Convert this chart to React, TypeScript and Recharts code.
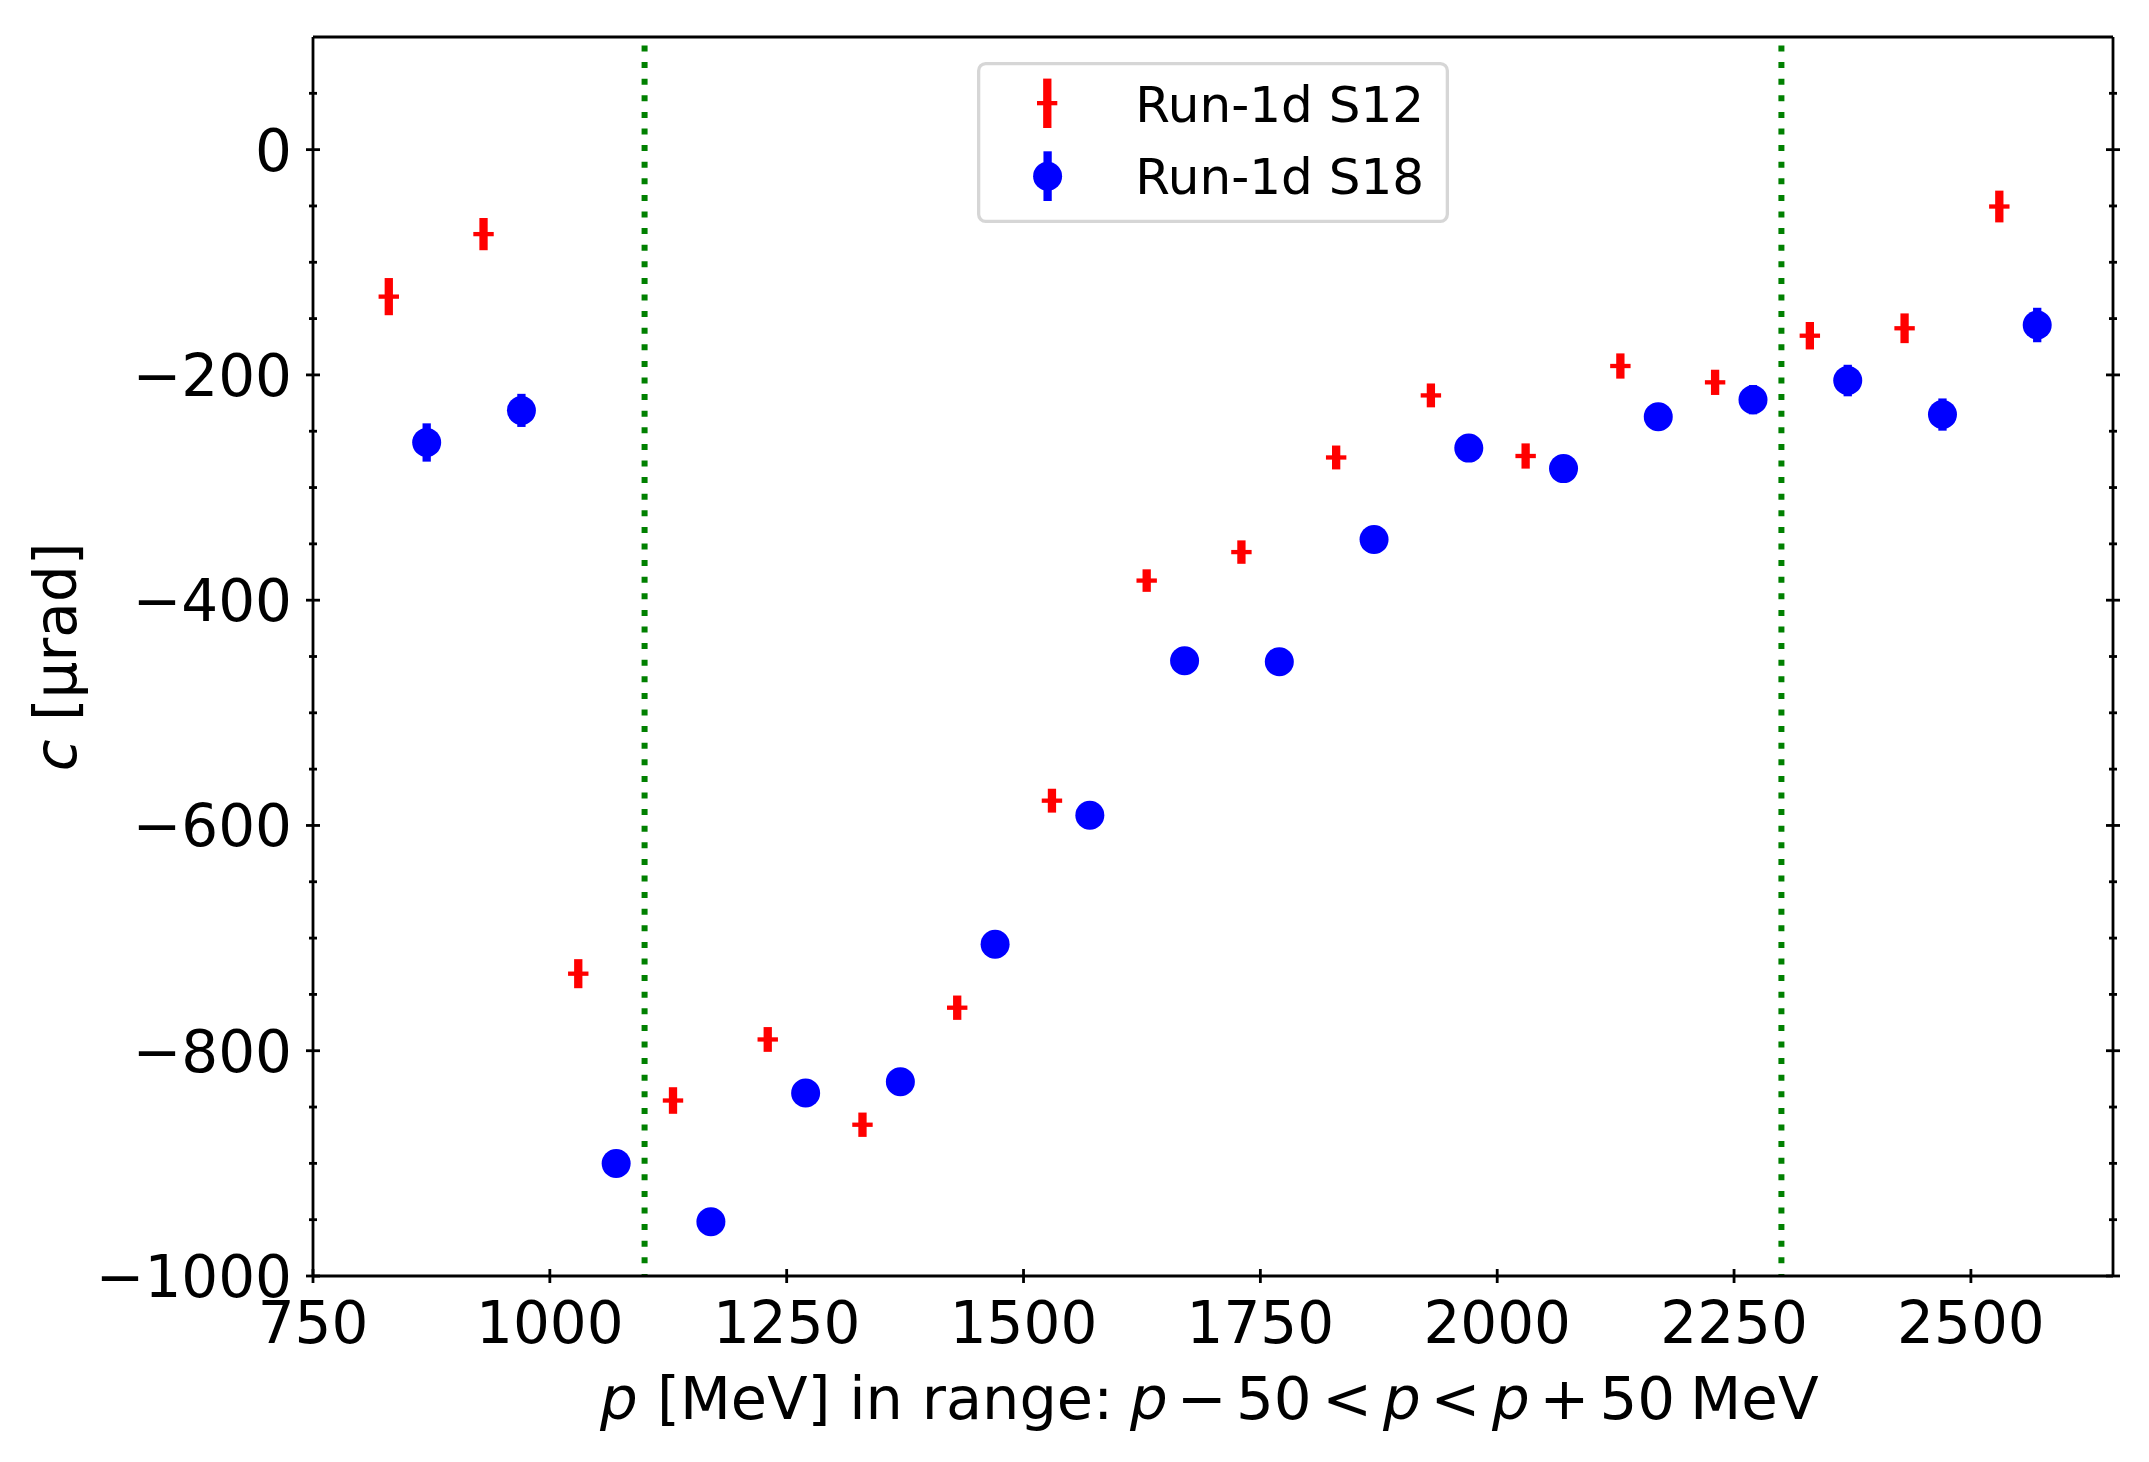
import React from 'react';
import { ScatterChart, Scatter, XAxis, YAxis, ErrorBar, ReferenceLine, Legend } from 'recharts';

const FONT = '"DejaVu Sans", Verdana, sans-serif';

// Run-1d S12 (red)
const s12P = [830, 930, 1030, 1130, 1230, 1330, 1430, 1530, 1630, 1730, 1830, 1930, 2030, 2130, 2230, 2330, 2430, 2530];
const s12C = [-130.5, -75, -731.6, -844.2, -790, -865.7, -761.8, -578, -382.6, -357.3, -273.3, -218.2, -272, -192.1, -206.6, -165.2, -158.6, -50.5];
const s12Err = [16.5, 14.3, 12.9, 11.8, 11, 10.8, 10.8, 10.6, 10, 10.4, 10.6, 10.6, 11.2, 11.2, 11.2, 12.2, 13.2, 14.1];

// Run-1d S18 (blue)
const s18P = [870, 970, 1070, 1170, 1270, 1370, 1470, 1570, 1670, 1770, 1870, 1970, 2070, 2170, 2270, 2370, 2470, 2570];
const s18C = [-260, -231.5, -900.1, -951.9, -837.6, -827.6, -705.5, -590.9, -453.8, -454.6, -346.2, -265, -283.2, -237.2, -222, -205, -235.2, -155.7];
const s18Err = [17, 14.7, 11, 10, 10, 10, 10, 10, 10, 10, 10, 10, 10, 11, 13, 14, 14.3, 15.3];

const seriesNames = ['Run-1d S12', 'Run-1d S18'];
const boundaries = [1100, 2300];

const xTicks = [750, 1000, 1250, 1500, 1750, 2000, 2250, 2500];
const yTicks = [-1000, -950, -900, -850, -800, -750, -700, -650, -600, -550, -500, -450, -400, -350, -300, -250, -200, -150, -100, -50, 0, 50];
const yMajorTicks = [-1000, -800, -600, -400, -200, 0];
const xDomain = [750, 2650];
const yDomain = [-1000, 100];

const s12Data = s12P.map((p, i) => ({ p, c: s12C[i], err: s12Err[i] }));
const s18Data = s18P.map((p, i) => ({ p, c: s18C[i], err: s18Err[i] }));

const fmt = (v: number) => (v < 0 ? '\u2212' + Math.abs(v) : String(v));

const LW = 2.8;

const BottomTick = (props: any) => {
  const { x, y, payload } = props;
  return (
    <g>
      <line x1={x} x2={x} y1={y - 7} y2={y + 7} stroke="#000" strokeWidth={LW} />
      <text x={x} y={y + 66.5} textAnchor="middle" fontSize={58} fontFamily={FONT} fill="#000">
        {fmt(payload.value)}
      </text>
    </g>
  );
};

const TopTick = (props: any) => {
  const { x, y } = props;
  return <line x1={x} x2={x} y1={y - 7} y2={y + 7} stroke="#000" strokeWidth={LW} />;
};

const LeftTick = (props: any) => {
  const { x, y, payload } = props;
  const major = yMajorTicks.includes(payload.value);
  const len = major ? 7 : 4;
  return (
    <g>
      <line x1={x - len} x2={x + len} y1={y} y2={y} stroke="#000" strokeWidth={LW} />
      {major && (
        <text x={x - 21} y={y + 21} textAnchor="end" fontSize={58} fontFamily={FONT} fill="#000">
          {fmt(payload.value)}
        </text>
      )}
    </g>
  );
};

const RightTick = (props: any) => {
  const { x, y, payload } = props;
  const major = yMajorTicks.includes(payload.value);
  const len = major ? 7 : 4;
  return <line x1={x - len} x2={x + len} y1={y} y2={y} stroke="#000" strokeWidth={LW} />;
};

const RedMarker = (props: any) => {
  const { cx, cy } = props;
  return <rect x={cx - 10.2} y={cy - 2.15} width={20.4} height={4.3} fill="#ff0000" />;
};

const BlueMarker = (props: any) => {
  const { cx, cy } = props;
  return <circle cx={cx} cy={cy} r={14.5} fill="#0000ff" />;
};

const XLabel = () => (
  <g>
    <text y={1418.7} fontSize={59.5} fontFamily={FONT} fill="#000">
      <tspan x={600} fontStyle="italic">p</tspan>
    </text>
    <text x={657} y={1418.7} fontSize={59} fontFamily={FONT} fill="#000" textLength={456} lengthAdjust="spacingAndGlyphs">
      [MeV] in range:
    </text>
    <text y={1418.7} fontSize={59.5} fontFamily={FONT} fill="#000">
      <tspan x={1130} fontStyle="italic">p</tspan>
      <tspan x={1177}>{'\u2212'}</tspan>
      <tspan x={1236}>50</tspan>
      <tspan x={1322.3}>{'<'}</tspan>
      <tspan x={1383} fontStyle="italic">p</tspan>
      <tspan x={1430.6}>{'<'}</tspan>
      <tspan x={1492} fontStyle="italic">p</tspan>
      <tspan x={1539.6}>+</tspan>
      <tspan x={1599.4}>50</tspan>
      <tspan x={1690}>MeV</tspan>
    </text>
  </g>
);

const YLabel = () => (
  <text
    x={75.6}
    y={657}
    textAnchor="middle"
    fontSize={58}
    fontFamily={FONT}
    fill="#000"
    transform="rotate(-90 75.6 657)"
  >
    <tspan fontStyle="italic">c</tspan>
    <tspan> [μrad]</tspan>
  </text>
);

const LegendBox = () => (
  <svg width={472} height={161} style={{ display: 'block' }}>
    <rect x={1.65} y={1.65} width={468.7} height={157.7} rx={7} ry={7} fill="#ffffff" stroke="#d6d6d6" strokeWidth={3.3} />
    <line x1={70.3} x2={70.3} y1={16.6} y2={66} stroke="#ff0000" strokeWidth={8.3} />
    <rect x={60} y={39} width={20.3} height={4.3} fill="#ff0000" />
    <text x={158.3} y={60} fontSize={50} fontFamily={FONT} fill="#000">{seriesNames[0]}</text>
    <line x1={70.6} x2={70.6} y1={89.3} y2={139} stroke="#0000ff" strokeWidth={8.3} />
    <circle cx={70.6} cy={114.3} r={14.5} fill="#0000ff" />
    <text x={158.3} y={132.3} fontSize={50} fontFamily={FONT} fill="#000">{seriesNames[1]}</text>
  </svg>
);

export default function App() {
  return (
    <div style={{ position: 'absolute', left: 0, top: 0, width: 2149, height: 1462, background: '#ffffff' }}>
      <ScatterChart width={2149} height={1462} margin={{ top: 17, right: 6, bottom: 86, left: 113 }}>
        <XAxis
          xAxisId="b"
          type="number"
          dataKey="p"
          orientation="bottom"
          domain={xDomain}
          ticks={xTicks}
          interval={0}
          allowDataOverflow
          height={100}
          tickSize={0}
          tickMargin={0}
          tickLine={false}
          axisLine={{ stroke: '#000', strokeWidth: LW }}
          tick={BottomTick}
          label={XLabel}
        />
        <XAxis
          xAxisId="t"
          type="number"
          orientation="top"
          domain={xDomain}
          ticks={xTicks}
          interval={0}
          allowDataOverflow
          height={20}
          tickSize={0}
          tickMargin={0}
          tickLine={false}
          axisLine={{ stroke: '#000', strokeWidth: LW }}
          tick={TopTick}
        />
        <YAxis
          yAxisId="l"
          type="number"
          dataKey="c"
          orientation="left"
          domain={yDomain}
          ticks={yTicks}
          interval={0}
          allowDataOverflow
          width={200}
          tickSize={0}
          tickMargin={0}
          tickLine={false}
          axisLine={{ stroke: '#000', strokeWidth: LW }}
          tick={LeftTick}
          label={YLabel}
        />
        <YAxis
          yAxisId="r"
          type="number"
          orientation="right"
          domain={yDomain}
          ticks={yTicks}
          interval={0}
          allowDataOverflow
          width={30}
          tickSize={0}
          tickMargin={0}
          tickLine={false}
          axisLine={{ stroke: '#000', strokeWidth: LW }}
          tick={RightTick}
        />
        {boundaries.map((b) => (
          <ReferenceLine
            key={b}
            x={b}
            xAxisId="b"
            yAxisId="l"
            stroke="#008000"
            strokeWidth={6}
            strokeDasharray="6 10.6"
            strokeDashoffset={3.9}
          />
        ))}
        <Scatter
          name={seriesNames[0]}
          data={s12Data}
          xAxisId="b"
          yAxisId="l"
          dataKey="c"
          fill="#ff0000"
          shape={RedMarker}
          isAnimationActive={false}
        >
          <ErrorBar dataKey="err" direction="y" width={0} stroke="#ff0000" strokeWidth={8.3} isAnimationActive={false} />
        </Scatter>
        <Scatter
          name={seriesNames[1]}
          data={s18Data}
          xAxisId="b"
          yAxisId="l"
          dataKey="c"
          fill="#0000ff"
          shape={BlueMarker}
          isAnimationActive={false}
        >
          <ErrorBar dataKey="err" direction="y" width={0} stroke="#0000ff" strokeWidth={8.3} isAnimationActive={false} />
        </Scatter>
        <Legend
          layout="vertical"
          align="center"
          verticalAlign="middle"
          wrapperStyle={{ left: 976.7, top: 61.7, width: 472, height: 161 }}
          content={LegendBox}
        />
      </ScatterChart>
    </div>
  );
}
